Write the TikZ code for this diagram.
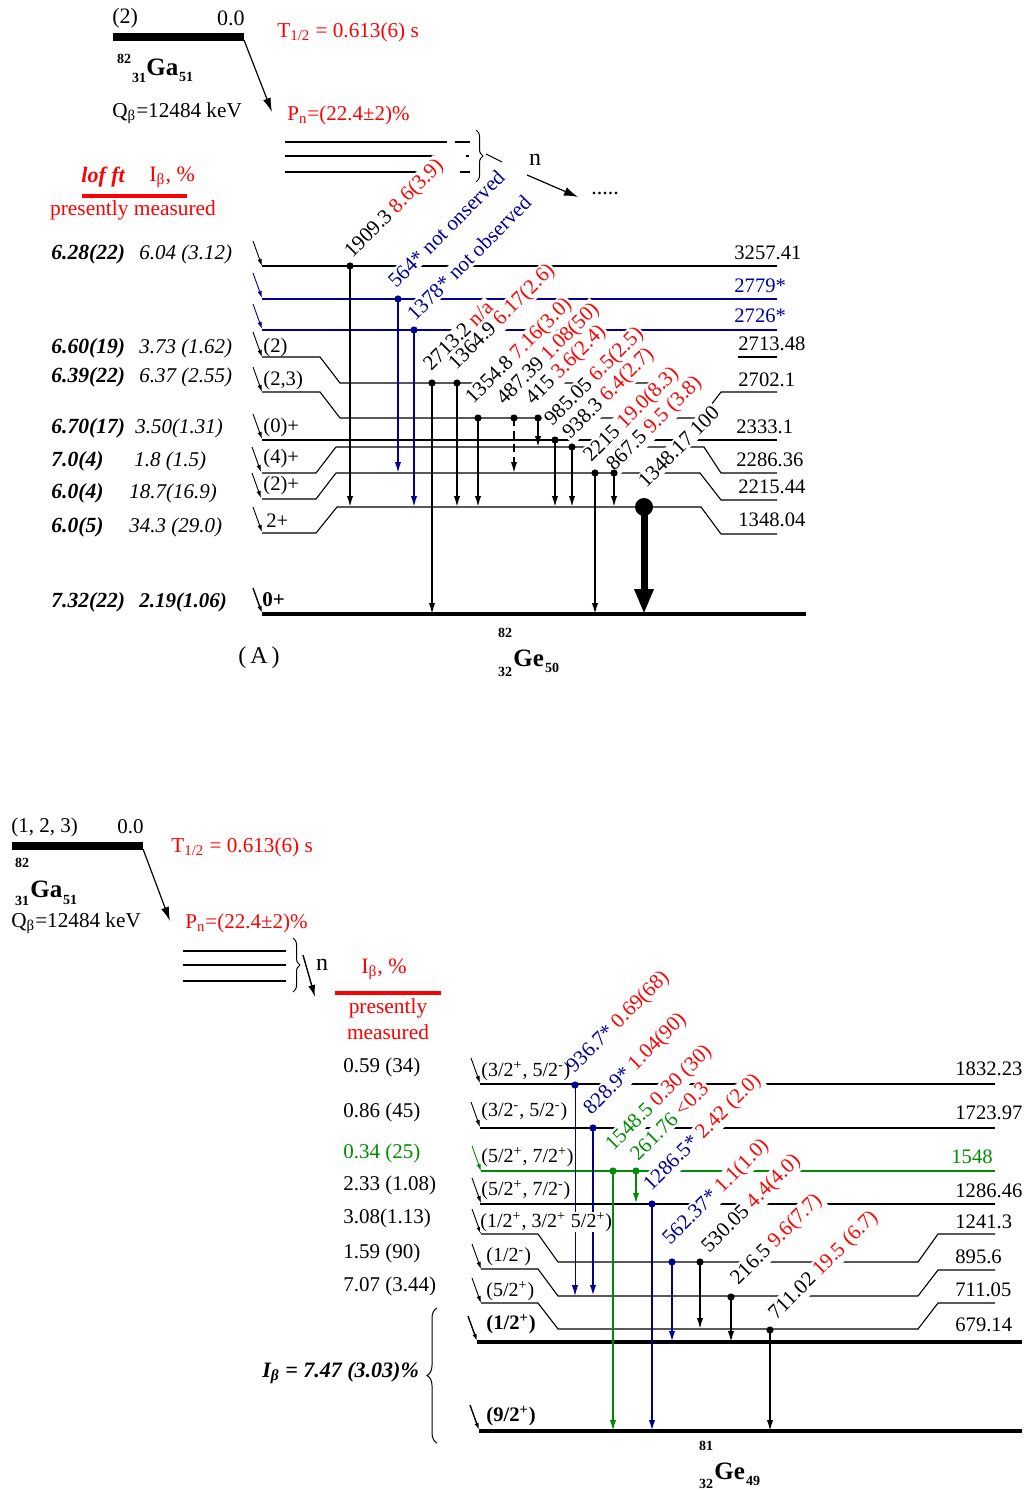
\documentclass[tikz,border=0pt]{standalone}
\usepackage{fontspec}
\setmainfont{Liberation Serif}
\usetikzlibrary{arrows.meta,decorations.pathreplacing}
\definecolor{myred}{RGB}{255,0,0}
\definecolor{myblue}{RGB}{0,0,150}
\definecolor{mygreen}{RGB}{0,140,0}
\newcommand\fsz[1]{\fontsize{#1}{#1}\selectfont}
\newcommand\rd[1]{\textcolor{myred}{#1}}
\newcommand\bl[1]{\textcolor{myblue}{#1}}
\newcommand\gr[1]{\textcolor{mygreen}{#1}}
\newcommand\sps[1]{\textsuperscript{#1}}
\newcommand\sbs[1]{\textsubscript{#1}}
\newcommand\LW[1]{#1}
% transition: name, x, y1, y2, style
\newcommand\tran[5]{%
  \coordinate (#1a) at (#2,#3); \coordinate (#1b) at (#2,#4);
  \draw[tr,#5] (#1a) -- (#1b);
  \fill[#5] (#1a) circle[radius=1.8pt];}
\newcommand\feedarrow[3]{%
  \coordinate (#1) at (#2); \draw[feed,#3] (#1) ++(-9,-25) -- (#1);}
\newcommand\toplabels{%
  \node[rl,boxpass] (la1) at (351,260) {\LW{1909.3 \rd{8.6(3.9)}}};
  \node[rl,boxpass] (la2) at (395,290) {\LW{\bl{564* not onserved}}};
  \node[rl,boxpass] (la3) at (414,323) {\LW{\bl{1378* not observed}}};
  \node[rl,boxpass] (la4) at (430,373) {\LW{2713.2 \rd{n/a}}};
  \node[rl,boxpass] (la5) at (455,372) {\LW{1364.9 \rd{6.17(2.6)}}};
  \node[rl,boxpass] (la6) at (472,406) {\LW{1354.8 \rd{7.16(3.0)}}};
  \node[rl,boxpass] (la7) at (503,407) {\LW{487.39 \rd{1.08(50)}}};
  \node[rl,boxpass] (la8) at (532,407) {\LW{415 \rd{3.6(2.4)}}};
  \node[rl,boxpass] (la9) at (551,428) {\LW{985.05 \rd{6.5(2.5)}}};
  \node[rl,boxpass] (la10) at (569,441) {\LW{938.3 \rd{6.4(2.7)}}};
  \node[rl,boxpass] (la11) at (590,464) {\LW{2215 \rd{19.0(8.3)}}};
  \node[rl,boxpass] (la12) at (613,473) {\LW{867.5 \rd{9.5 (3.8)}}};
  \node[rl,boxpass] (la13) at (645,490) {\LW{1348.17 100}};
  \node[rl,boxpass] (lb1) at (573,1075) {\LW{\bl{936.7*} \rd{0.69(68)}}};
  \node[rl,boxpass] (lb2) at (590,1117) {\LW{\bl{828.9*} \rd{1.04(90)}}};
  \node[rl,boxpass] (lb3) at (612,1153) {\LW{\gr{1548.5} \rd{0.30 (30)}}};
  \node[rl,boxpass] (lb4) at (637,1163) {\LW{\gr{261.76} \rd{<0.3}}};
  \node[rl,boxpass] (lb5) at (650,1193) {\LW{\bl{1286.5*} \rd{2.42 (2.0)}}};
  \node[rl,boxpass] (lb6) at (669,1247) {\LW{\bl{562.37*} \rd{1.1(1.0)}}};
  \node[rl,boxpass] (lb7) at (708,1255) {\LW{530.05 \rd{4.4(4.0)}}};
  \node[rl,boxpass] (lb8) at (737,1287) {\LW{216.5 \rd{9.6(7.7)}}};
  \node[rl,boxpass] (lb9) at (775,1322) {\LW{711.02 \rd{19.5 (6.7)}}};
}
\begin{document}
\begin{tikzpicture}[x=0.5pt,y=-0.5pt,
  every node/.style={inner sep=0.5pt, font=\fsz{10.5}},
  lev/.style={line width=0.55pt},
  gnd/.style={line width=2pt},
  tr/.style={line width=0.8pt,-{Latex[length=5.5pt,width=3.2pt]}},
  feed/.style={line width=0.45pt,-{Latex[length=3.5pt,width=2.2pt]}},
  rl/.style={rotate=45,anchor=base west,inner sep=0.8pt,font=\fsz{10.5}},
  en/.style={anchor=west,font=\fsz{10.3}},
  spn/.style={anchor=west,font=\fsz{10.3}},
  spb/.style={anchor=west,font=\fsz{10}},
  col/.style={anchor=west,font=\fsz{10.5}\itshape},
  colb/.style={anchor=west,font=\fsz{10.8}\bfseries\itshape},
  col2/.style={anchor=west,font=\fsz{10.5}},
  iso/.style={font=\fsz{7}\bfseries},
  isoel/.style={anchor=base west,font=\fsz{12.5}\bfseries},
  boxpass/.style={},
  bar/.style={line width=4pt},
  brc/.style={decorate,decoration={brace,amplitude=3.5pt},line width=0.5pt}
]
\useasboundingbox (0,0) rectangle (1029,1492);

%================ TOP: 82Ga -> 82Ge ================
\coordinate (gaL) at (113,37); \coordinate (gaR) at (244,37);
\draw[bar] (gaL) -- (gaR);
\node[anchor=west,font=\fsz{11}] (gaspin) at (111,18) {(2)};
\node[anchor=east,font=\fsz{11}] (gaen) at (246,18) {0.0};
\node[iso] (ga82) at (124,59) {82};
\node[iso] (ga31) at (139,78) {31};
\node[isoel] (gaEl) at (145,76) {Ga};
\node[iso] (ga51) at (186,77) {51};
\node[anchor=west,font=\fsz{10.6},text=myred] (thalf) at (276,32) {T\sbs{1/2} = 0.613(6) s};
\coordinate (gaArr) at (272,112);
\draw[line width=0.6pt,-{Latex[length=7pt,width=4pt]}] (244,40) -- (gaArr);
\node[anchor=west,font=\fsz{10.6}] (qb) at (111,113) {Q\sbs{β}=12484 keV};
\node[anchor=west,font=\fsz{10.5},text=myred] (pn) at (286,115) {P\sbs{n}=(22.4±2)\%};
% neutron-unbound levels
\draw[lev] (285,142) -- (447,142); \draw[lev] (455,142) -- (470,142);
\draw[lev] (285,156) -- (435,156); \draw[lev] (466,156) -- (469,156);
\draw[lev] (285,172) -- (419,172); \draw[lev] (460,172) -- (470,172);
\draw[brc] (476,130) -- (476,182);
\coordinate (nb1) at (486,154); \coordinate (nb2) at (502,162);
\draw[line width=0.5pt] (nb1) -- (nb2);
\node[font=\fsz{12}] (nTop) at (535,160) {n};
\coordinate (nA1) at (527,175); \coordinate (nA2) at (578,197);
\draw[line width=0.6pt,-{Latex[length=7pt,width=4.5pt]}] (nA1) -- (nA2);
\node[font=\fsz{11}] (dots) at (605,194) {.....};
% header
\node[anchor=west,font=\fsz{11}\bfseries\itshape,text=myred] (logft) at (80,177) {lof ft};
\node[anchor=west,font=\fsz{11},text=myred] (ibTop) at (148,177) {I\sbs{β}, \%};
\draw[myred,line width=2pt] (82,196) -- (187,196);
\node[font=\fsz{10.7},text=myred] (presTop) at (133,210) {presently measured};

% levels (top)
\draw[lev] (262,266) -- (777,266);
\draw[lev,myblue] (262,299) -- (777,299);
\draw[lev,myblue] (262,330) -- (777,330);
\draw[lev] (262,357) -- (320,357) -- (340,383) -- (650,383);
\draw[lev] (738,357) -- (777,357);
\draw[lev] (262,392) -- (320,392) -- (340,418) -- (701,418) -- (721,392) -- (777,392);
\draw[lev] (262,440) -- (777,440);
\draw[lev] (262,473) -- (316,473) -- (336,447) -- (704,447) -- (721,473) -- (777,473);
\draw[lev] (262,499) -- (316,499) -- (336,473) -- (700,473) -- (721,500) -- (777,500);
\draw[lev] (262,533) -- (316,533) -- (337,507) -- (701,507) -- (721,534) -- (777,534);
\draw[gnd] (262,614) -- (806,614);

%================ BOTTOM: 82Ga -> 81Ge ================
\coordinate (gbL) at (12,846); \coordinate (gbR) at (143,846);
\draw[bar] (gbL) -- (gbR);
\node[anchor=west] (gbspin) at (10,827) {(1, 2, 3)};
\node[anchor=east] (gben) at (145,827) {0.0};
\node[iso] (gb82) at (22,863) {82};
\node[iso] (gb31) at (22,901) {31};
\node[isoel] (gbEl) at (29,897) {Ga};
\node[iso] (gb51) at (70,900) {51};
\node[anchor=west,font=\fsz{10.6}] (qb2) at (10,923) {Q\sbs{β}=12484 keV};
\node[anchor=west,font=\fsz{10.6},text=myred] (thalf2) at (170,847) {T\sbs{1/2} = 0.613(6) s};
\coordinate (gbArr) at (170,921);
\draw[line width=0.6pt,-{Latex[length=7pt,width=4pt]}] (143,849) -- (gbArr);
\node[anchor=west,font=\fsz{10.5},text=myred] (pn2) at (184,923) {P\sbs{n}=(22.4±2)\%};
\draw[lev] (183,951) -- (286,951);
\draw[lev] (183,965) -- (286,965);
\draw[lev] (183,981) -- (286,981);
\draw[brc] (293,938) -- (293,992);
\coordinate (nC1) at (303,955); \coordinate (nC2) at (315,997);
\draw[line width=0.7pt,-{Latex[length=6pt,width=3.5pt]}] (nC1) -- (nC2);
\node[font=\fsz{12}] (nBot) at (322,965) {n};
\node[font=\fsz{11},text=myred] (ibBot) at (384,969) {I\sbs{β}, \%};
\draw[myred,line width=2pt] (335,993) -- (441,993);
\node[font=\fsz{10.7},text=myred] (presBot1) at (388,1008) {presently};
\node[font=\fsz{10.7},text=myred] (presBot2) at (388,1032) {measured};

% levels (bottom)
\draw[lev] (480,1084) -- (995,1084);
\draw[lev] (480,1128) -- (995,1128);
\draw[lev,mygreen] (481,1171) -- (995,1171);
\draw[lev] (480,1204) -- (995,1204);
\draw[lev] (481,1234) -- (538,1234) -- (558,1262) -- (918,1262) -- (938,1234) -- (995,1234);
\draw[lev] (481,1269) -- (538,1269) -- (558,1296) -- (918,1296) -- (938,1270) -- (995,1270);
\draw[lev] (481,1303) -- (538,1303) -- (558,1329) -- (918,1329) -- (938,1303) -- (995,1303);
\draw[gnd] (477,1342) -- (1022,1342);
\draw[gnd,line width=2.3pt] (479,1431) -- (1022,1431);

%================ label boxes (white) ================
\tikzset{boxpass/.style={fill=white}}
\renewcommand\LW[1]{\phantom{#1}}
\toplabels

%================ transitions ================
\tran{t1}{350}{266}{507}{black}
\tran{t2}{398}{299}{473}{myblue}
\tran{t3}{414}{330}{507}{myblue}
\tran{t4}{432}{383}{614}{black}
\tran{t5}{457}{383}{507}{black}
\tran{t6}{478}{418}{507}{black}
\tran{t7}{514}{418}{473}{black,dashed,dash pattern=on 4pt off 2.5pt}
\tran{t8}{538}{418}{447}{black}
\tran{t9}{555}{440}{507}{black}
\tran{t10}{572}{447}{507}{black}
\tran{t11}{595}{473}{614}{black}
\tran{t12}{614}{473}{507}{black}
\coordinate (t13a) at (644,507); \coordinate (t13b) at (644,614);
\draw[line width=3.5pt,-{Triangle[length=12.5pt,width=9pt]}] (t13a) -- (t13b);
\fill (t13a) circle[radius=4.5pt];

\tran{b1}{575}{1085}{1296}{myblue,line width=0.5pt}
\tran{b2}{593}{1128}{1296}{myblue,line width=1pt}
\tran{b3}{613}{1171}{1431}{mygreen}
\tran{b4}{636}{1171}{1204}{mygreen,line width=1pt}
\tran{b5}{652}{1204}{1431}{myblue,line width=1pt}
\tran{b6}{672}{1262}{1342}{myblue,line width=1pt}
\tran{b7}{700}{1262}{1329}{black}
\tran{b8}{731}{1297}{1342}{black}
\tran{b9}{770}{1330}{1431}{black}

%================ label texts ================
\tikzset{boxpass/.style={}}
\renewcommand\LW[1]{#1}
\toplabels

% feeding arrows (top)
\feedarrow{f1}{262,266}{black}
\feedarrow{f2}{262,298}{myblue}
\feedarrow{f3}{262,329}{myblue}
\feedarrow{f4}{262,357}{black}
\feedarrow{f5}{262,392}{black}
\feedarrow{f6}{262,439}{black}
\feedarrow{f7}{261,472}{black}
\feedarrow{f8}{261,498}{black}
\feedarrow{f9}{262,532}{black}
\feedarrow{f10}{262,613}{black,line width=0.7pt}

% spins (top)
\node[spn] (s1) at (262,348) {(2)};
\node[spn] (s2) at (262,381) {(2,3)};
\node[spn] (s3) at (262,428) {(0)+};
\node[spn] (s4) at (262,459) {(4)+};
\node[spn] (s5) at (262,486) {(2)+};
\node[spn] (s6) at (265,521) {2+};
\node[spn,font=\fsz{10.5}\bfseries] (s7) at (261,600) {0+};

% energies (top)
\node[en] (e1) at (733,253) {3257.41};
\node[en,text=myblue] (e2) at (733,286) {2779*};
\node[en,text=myblue] (e3) at (733,316) {2726*};
\node[en] (e4) at (737,344) {2713.48};
\node[en] (e5) at (737,380) {2702.1};
\node[en] (e6) at (735,427) {2333.1};
\node[en] (e7) at (735,460) {2286.36};
\node[en] (e8) at (737,487) {2215.44};
\node[en] (e9) at (737,520) {1348.04};

% log ft / Ib columns
\node[colb] (c1a) at (50,254) {6.28(22)}; \node[col] (c1b) at (138,254) {6.04 (3.12)};
\node[colb] (c2a) at (50,348) {6.60(19)}; \node[col] (c2b) at (138,348) {3.73 (1.62)};
\node[colb] (c3a) at (50,377) {6.39(22)}; \node[col] (c3b) at (138,377) {6.37 (2.55)};
\node[colb] (c4a) at (50,428) {6.70(17)}; \node[col] (c4b) at (134,428) {3.50(1.31)};
\node[colb] (c5a) at (50,461) {7.0(4)};   \node[col] (c5b) at (133,461) {1.8 (1.5)};
\node[colb] (c6a) at (50,493) {6.0(4)};   \node[col] (c6b) at (128,493) {18.7(16.9)};
\node[colb] (c7a) at (50,527) {6.0(5)};   \node[col] (c7b) at (128,527) {34.3 (29.0)};
\node[colb] (c8a) at (50,602) {7.32(22)}; \node[colb,font=\fsz{10.5}\bfseries\itshape] (c8b) at (138,602) {2.19(1.06)};

% 82Ge label
\node[iso] (ge82) at (505,633) {82};
\node[iso] (ge32) at (505,672) {32};
\node[isoel] (geEl) at (512,666) {Ge};
\node[iso] (ge50) at (552,668) {50};
\node[font=\fsz{12}] (labA) at (259,658) {(\,A\,)};

% feeding arrows (bottom)
\feedarrow{g1}{480,1083}{black}
\feedarrow{g2}{480,1127}{black}
\feedarrow{g3}{481,1171}{mygreen}
\feedarrow{g4}{481,1203}{black}
\feedarrow{g5}{481,1234}{black}
\feedarrow{g6}{481,1269}{black}
\feedarrow{g7}{481,1303}{black}
\feedarrow{g8}{477,1341}{black,line width=0.7pt}
\feedarrow{g9}{479,1430}{black,line width=0.7pt}

% spins (bottom)
\node[spb] (u1) at (480,1071) {(3/2\sps{+}, 5/2\sps{-})};
\node[spb] (u2) at (480,1112) {(3/2\sps{-}, 5/2\sps{-})};
\node[spb] (u3) at (480,1157) {(5/2\sps{+}, 7/2\sps{+})};
\node[spb] (u4) at (480,1190) {(5/2\sps{+}, 7/2\sps{-})};
\node[spb,fill=white,inner sep=0pt] (u5) at (480,1222) {(1/2\sps{+}, 3/2\sps{+} 5/2\sps{+})};
\node[spb] (u6) at (485,1257) {(1/2\sps{-})};
\node[spb] (u7) at (485,1291) {(5/2\sps{+})};
\node[spb,font=\fsz{10.3}\bfseries] (u8) at (485,1324) {(1/2\sps{+})};
\node[spb,font=\fsz{10.3}\bfseries] (u9) at (485,1416) {(9/2\sps{+})};

% energies (bottom)
\node[en] (v1) at (954,1069) {1832.23};
\node[en] (v2) at (954,1113) {1723.97};
\node[en,text=mygreen] (v3) at (950,1157) {1548};
\node[en] (v4) at (954,1191) {1286.46};
\node[en] (v5) at (954,1222) {1241.3};
\node[en] (v6) at (954,1257) {895.6};
\node[en] (v7) at (954,1290) {711.05};
\node[en] (v8) at (954,1325) {679.14};

% Ib column (bottom)
\node[col2] (w1) at (342,1067) {0.59 (34)};
\node[col2] (w2) at (342,1112) {0.86 (45)};
\node[col2,text=mygreen] (w3) at (342,1153) {0.34 (25)};
\node[col2] (w4) at (342,1185) {2.33 (1.08)};
\node[col2] (w5) at (342,1218) {3.08(1.13)};
\node[col2] (w6) at (342,1253) {1.59 (90)};
\node[col2] (w7) at (342,1286) {7.07 (3.44)};
\node[anchor=west,font=\fsz{11}\bfseries\itshape] (ibsum) at (261,1373) {I\sbs{β} = 7.47 (3.03)\%};
\draw[brc,decoration={brace,amplitude=5pt}] (437,1443) -- (437,1308);

% 81Ge label
\node[iso] (ge81) at (706,1446) {81};
\node[iso] (ge32b) at (706,1484) {32};
\node[isoel] (geElb) at (713,1479) {Ge};
\node[iso] (ge49) at (753,1481) {49};
\end{tikzpicture}
\end{document}
